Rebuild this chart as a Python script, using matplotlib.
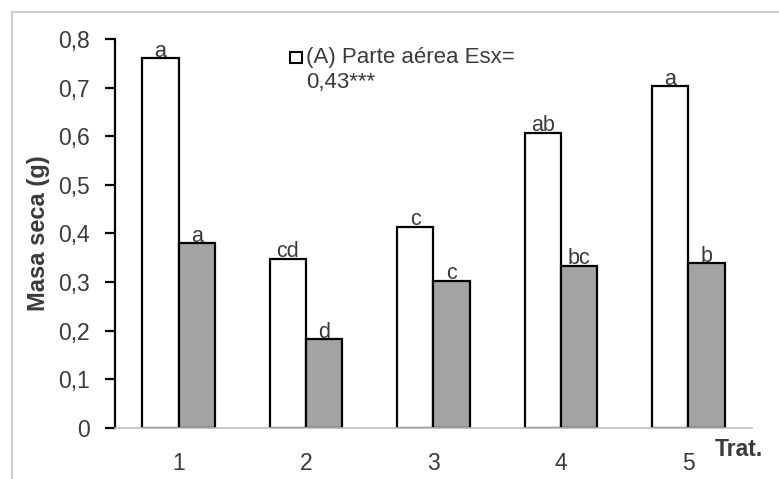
import matplotlib
matplotlib.use('Agg')
import matplotlib.pyplot as plt
from matplotlib.patches import Rectangle
from matplotlib.lines import Line2D
import numpy as np

plt.rcParams['font.family'] = ['Liberation Sans', 'DejaVu Sans']

# datos
tratamientos = ['1', '2', '3', '4', '5']
parte_aerea = [0.760, 0.348, 0.414, 0.607, 0.703]
raiz = [0.380, 0.182, 0.303, 0.334, 0.339]
letras_aerea = ['a', 'cd', 'c', 'ab', 'a']
letras_raiz = ['a', 'd', 'c', 'bc', 'b']
yticks = [0, 0.1, 0.2, 0.3, 0.4, 0.5, 0.6, 0.7, 0.8]

txt = '#3a3a3a'

fig = plt.figure(figsize=(7.79, 4.79), dpi=100)
ax = fig.add_axes([0.1476, 0.1065, 0.8177, 0.8121])

x = np.arange(len(tratamientos))
w = 0.285
ax.bar(x - w / 2, parte_aerea, w, color='white', edgecolor='black', linewidth=1.6)
ax.bar(x + w / 2, raiz, w, color='#a3a3a3', edgecolor='black', linewidth=1.6)

for i in range(len(x)):
    ax.text(x[i] - w / 2, parte_aerea[i] - 0.007, letras_aerea[i], ha='center', va='bottom', fontsize=15.5, color=txt)
    ax.text(x[i] + w / 2, raiz[i] - 0.007, letras_raiz[i], ha='center', va='bottom', fontsize=15.5, color=txt)

ax.set_xlim(-0.5, 4.5)
ax.set_ylim(0, 0.8)
ax.set_yticks(yticks)
ax.set_yticklabels(['0' if v == 0 else ('%.1f' % v).replace('.', ',') for v in yticks], fontsize=16.5, color=txt)
ax.set_xticks(x)
ax.set_xticklabels(tratamientos, fontsize=16.5, color=txt)
ax.tick_params(axis='x', length=0, pad=17)
ax.tick_params(axis='y', length=7, width=1.6, direction='out', pad=11)

for s in ['top', 'right']:
    ax.spines[s].set_visible(False)
ax.spines['left'].set_linewidth(1.6)
ax.spines['bottom'].set_color('#bdbdbd')
ax.spines['bottom'].set_linewidth(1.2)

ax.set_ylabel('Masa seca (g)', fontsize=17, fontweight='bold', color=txt)
ax.yaxis.set_label_coords(-0.102, 0.5)
fig.text(715 / 779, 1 - 450 / 479, 'Trat.', fontsize=16.5, fontweight='bold', color=txt, va='center')

# leyenda
fig.patches.append(Rectangle((290 / 779, 1 - 63 / 479), 12 / 779, 11 / 479, transform=fig.transFigure,
                             facecolor='white', edgecolor='black', linewidth=1.5))
fig.text(306 / 779, 1 - 57.5 / 479, '(A) Parte aérea Esx=', fontsize=16, color=txt, va='center')
fig.text(306 / 779, 1 - 82.5 / 479, '0,43***', fontsize=16, color=txt, va='center')

# marco
fig.add_artist(Line2D([12 / 779, 12 / 779], [0, 1 - 12 / 479], transform=fig.transFigure, color='#cccccc', linewidth=1.5))
fig.add_artist(Line2D([12 / 779, 1], [1 - 12 / 479, 1 - 12 / 479], transform=fig.transFigure, color='#cccccc', linewidth=1.5))

fig.savefig('out.png', dpi=100)
